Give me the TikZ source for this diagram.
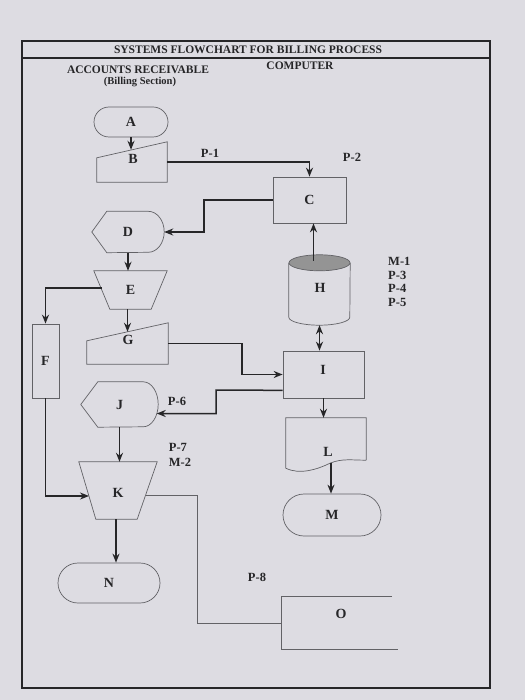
\documentclass[tikz,border=0pt]{standalone}
\usepackage{fontspec}
\setmainfont{Liberation Serif}
\usetikzlibrary{shapes.misc,calc,arrows.meta}
\definecolor{paper}{HTML}{DDDCE2}
\definecolor{ink}{HTML}{262628}
\definecolor{edge}{HTML}{626266}
\begin{document}
\begin{tikzpicture}[x=1pt,y=-1pt,
  ph/.style={draw=none,inner sep=0pt,text=ink,font=\bfseries\fontsize{14}{14}\selectfont},
  outl/.style={draw=edge,line width=0.7pt},
  boxed/.style={ph,draw=edge,line width=0.7pt},
  term/.style={ph,rounded rectangle,draw=edge,line width=0.7pt},
  tip/.tip={Stealth[length=9pt,width=7pt]},
  conn/.style={draw=ink,line width=1.5pt,-tip},
  thin/.style={draw=edge,line width=0.7pt},
  lbl/.style={inner sep=0pt,text=ink,font=\bfseries\fontsize{12.5}{12.5}\selectfont},
  hdr/.style={inner sep=0pt,text=ink,font=\bfseries\fontsize{11.5}{11.5}\selectfont},
]
\useasboundingbox (0,0) rectangle (525,700);
\fill[paper] (0,0) rectangle (525,700);
% frame
\draw[ink,line width=1.8pt] (22,41) -- (490,41) -- (490,688) -- (22,688) -- cycle;
\draw[ink,line width=1.5pt] (22,58) -- (490,58);
\node[hdr] (title) at (248,49.5) {SYSTEMS FLOWCHART FOR BILLING PROCESS};
\node[hdr] (acc) at (138,70) {ACCOUNTS RECEIVABLE};
\node[inner sep=0pt,text=ink,font=\bfseries\fontsize{10.5}{10.5}\selectfont] (bill) at (140,82) {(Billing Section)};
\node[hdr] (comp) at (300,66) {COMPUTER};

% A
\node[term,minimum width=74pt,minimum height=30pt] (A) at (131,122) {A};
% B manual input
\node[ph,minimum width=70pt,minimum height=40pt] (B) at (132,162) {};
\draw[outl] (B.south west) -- (B.south east) -- (B.north east) -- ($(B.north west)+(0,16)$) -- cycle;
\node[ph] (tB) at (133,159) {B};
% C
\node[boxed,minimum width=73pt,minimum height=46pt] (C) at (309.5,200) {C};
% D display
\node[ph,minimum width=72pt,minimum height=41pt] (D) at (128,232) {D};
\draw[outl] (D.west) -- ($(D.north west)+(15,0)$) -- ($(D.north east)+(-16,0)$)
  arc[start angle=90,end angle=-90,x radius=16pt,y radius=20.5pt]
  -- ($(D.south west)+(15,0)$) -- cycle;
% E manual operation
\node[ph,minimum width=73pt,minimum height=38pt] (E) at (130.5,290) {E};
\draw[outl] (E.north west) -- (E.north east) -- ($(E.south east)+(-16,0)$) -- ($(E.south west)+(16,0)$) -- cycle;
\coordinate (Eleft) at ($(E.west)+(8,-2)$);
% F
\node[boxed,minimum width=27pt,minimum height=74pt] (F) at (45.5,361) {F};
% G manual input
\node[ph,minimum width=81pt,minimum height=41pt] (G) at (127.5,343.5) {};
\draw[outl] (G.south west) -- (G.south east) -- (G.north east) -- ($(G.north west)+(0,18)$) -- cycle;
\node[ph] (tG) at (128,340) {G};
\coordinate (Gtop) at ($(G.north)+(0,9)$);
% H disk
\node[ph,minimum width=61pt,minimum height=70pt] (H) at (319.5,290) {};
\draw[outl] ($(H.north west)+(0,8)$) -- ($(H.south west)+(0,-8)$)
  arc[start angle=180,end angle=360,x radius=30.5pt,y radius=8pt]
  -- ($(H.north east)+(0,8)$);
\draw[outl,fill=black!42] ($(H.north)+(0,8)$) ellipse[x radius=30.5pt,y radius=8pt];
\node[ph] (tH) at (320,288) {H};
\coordinate (Hc) at ($(H.north)+(-6,6)$);
% I
\node[boxed,minimum width=81pt,minimum height=47pt] (I) at (323.5,374.5) {};
\node[ph] (tI) at (323,370) {I};
\coordinate (Iout) at ($(I.south west)+(0,-8)$);
% J display
\node[ph,minimum width=77pt,minimum height=45pt] (J) at (119.5,404.5) {J};
\draw[outl] (J.west) -- ($(J.north west)+(17,0)$) -- ($(J.north east)+(-15,0)$)
  arc[start angle=90,end angle=-90,x radius=15pt,y radius=22.5pt]
  -- ($(J.south west)+(17,0)$) -- cycle;
\coordinate (Jin) at ($(J.east)+(-1.5,9)$);
% L document
\node[ph,minimum width=80pt,minimum height=46pt] (L) at (326,441) {};
\draw[outl] ($(L.south east)+(0,-4)$) -- (L.north east) -- (L.north west) -- ($(L.south west)+(0,4)$)
  .. controls ($(L.south west)+(14,11)$) and ($(L.south west)+(32,5)$) .. ($(L.south)+(4,-1)$)
  .. controls ($(L.south)+(16,-6)$) and ($(L.south east)+(-14,-4)$) .. ($(L.south east)+(0,-4)$);
\node[ph] (tL) at (328,452) {L};
\coordinate (Lb) at ($(L.south)+(5,-1)$);
% M
\node[term,minimum width=98pt,minimum height=42pt] (M) at (332,515) {M};
% K manual operation
\node[ph,minimum width=78pt,minimum height=57pt] (K) at (118,490.5) {};
\draw[outl] (K.north west) -- (K.north east) -- ($(K.south east)+(-20,0)$) -- ($(K.south west)+(17,0)$) -- cycle;
\node[ph] (tK) at (118,493) {K};
\coordinate (Kl) at (89,496);
\coordinate (Kr) at (145.5,495);
% N
\node[term,minimum width=102pt,minimum height=40pt] (N) at (109,583) {N};
% O
\node[ph,minimum width=116pt,minimum height=52pt] (O) at (340,623) {};
\draw[thin] ($(O.north east)+(-6,0)$) -- (O.north west) -- (O.south west) -- (O.south east);
\node[ph] (tO) at (341,614) {O};

% labels
\node[lbl] (p1) at (210,153) {P-1};
\node[lbl] (p2) at (352,157) {P-2};
\node[lbl,anchor=west,align=left] (m1) at (388,282) {M-1\\[1.2pt]P-3\\[1.2pt]P-4\\[1.2pt]P-5};
\node[lbl] (p6) at (177,401) {P-6};
\node[lbl,align=left] (p7) at (180,455) {P-7\\[2pt]M-2};
\node[lbl] (p8) at (257,577) {P-8};

% connectors
\draw[conn] (A.south) -- ($(A.south |- B.north)+(0,8)$);
\draw[conn] (B.east) -| (C.north);
\draw[conn] (C.west) -- (204,200) |- (D.east);
\draw[conn] (D.south) -- (D.south |- E.north);
\draw[conn] (Eleft) -| (F.north);
\draw[conn] (E.south -| Gtop) -- (Gtop);
\draw[conn] (G.east) -- (242,343.5) |- (I.west);
\draw[conn] (Hc) -- (Hc |- C.south);
\draw[draw=ink,line width=1.5pt,tip-tip] (H.south) -- (H.south |- I.north);
\draw[conn] (Iout) -- (216,390) |- (Jin);
\draw[conn] (I.south) -- (I.south |- L.north);
\draw[conn] (J.south) -- (J.south |- K.north);
\draw[conn] (F.south) |- (Kl);
\draw[conn] ($(K.south)+(-2,0)$) -- ($(K.south |- N.north)+(-2,0)$);
\draw[conn] (Lb) -- (Lb |- M.north);
\draw[thin] (Kr) -- (197,495) |- (O.west);
\end{tikzpicture}
\end{document}
